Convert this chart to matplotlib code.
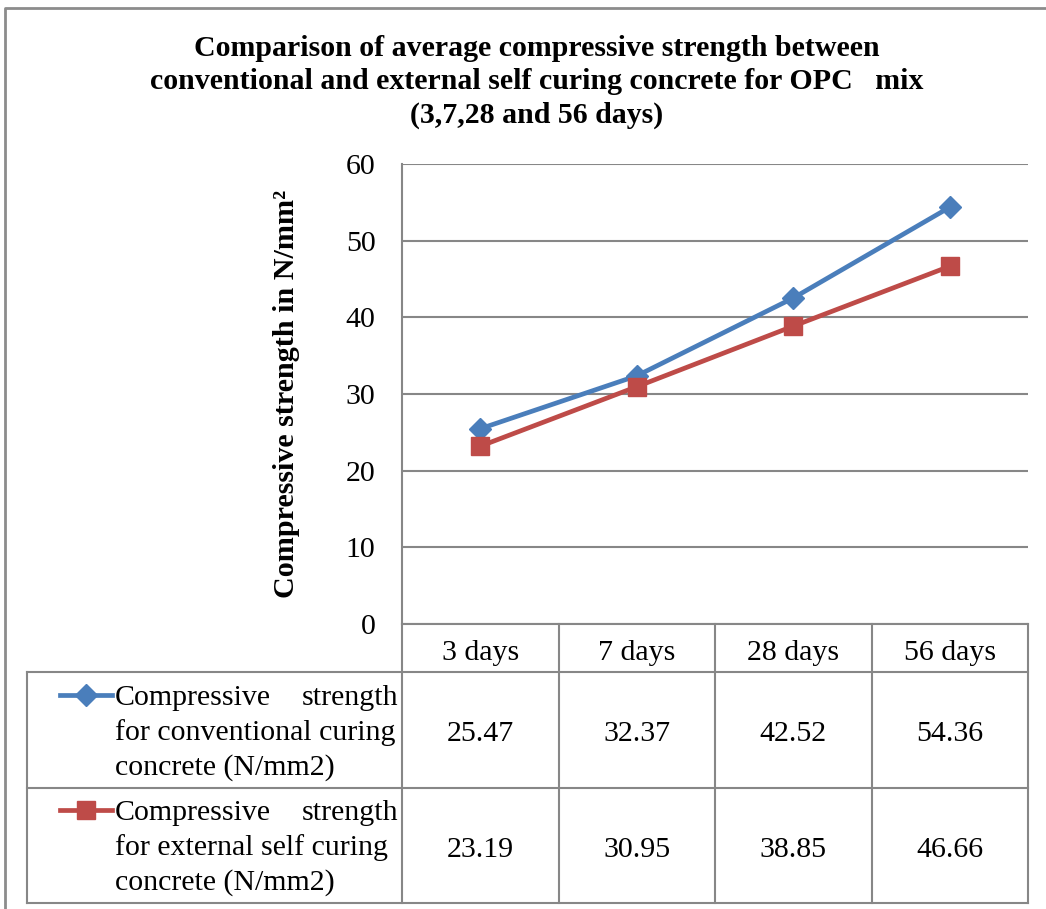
import matplotlib
matplotlib.use("Agg")
import matplotlib.pyplot as plt
from matplotlib.lines import Line2D
from matplotlib.transforms import blended_transform_factory

# data
days = ["3 days", "7 days", "28 days", "56 days"]
conventional = [25.47, 32.37, 42.52, 54.36]
self_curing = [23.19, 30.95, 38.85, 46.66]
yticks = [0, 10, 20, 30, 40, 50, 60]

blue = "#4A7EBB"
red = "#BE4B48"
grid_c = "#878787"
fs = 21.5

plt.rcParams['font.family'] = ['Liberation Serif', 'DejaVu Serif']

W, H = 1046, 909
fig = plt.figure(figsize=(W / 100, H / 100), dpi=100)

def fx(px):
    return px / W

def fy(py):
    return 1 - py / H

# outer chart border
fig.add_artist(Line2D([fx(5), fx(5), fx(W + 5)], [fy(H + 5), fy(8), fy(8)],
                      transform=fig.transFigure, color="#8c8c8c", lw=2))

fig.text(fx(537), fy(82),
         "Comparison of average compressive strength between\n"
         "conventional and external self curing concrete for OPC   mix\n"
         "(3,7,28 and 56 days)",
         ha='center', va='center', fontsize=21.5, fontweight='bold', linespacing=1.3)

ax = fig.add_axes([fx(402), fy(624), fx(1028) - fx(402), fy(164) - fy(624)])
x = list(range(len(days)))
ax.plot(x, conventional, color=blue, lw=3.4, marker='D', ms=11.5, zorder=3)
ax.plot(x, self_curing, color=red, lw=3.4, marker='s', ms=13.5, zorder=3)

ax.set_xlim(-0.5, len(days) - 0.5)
ax.set_ylim(0, 60)
ax.set_yticks(yticks)
ax.set_yticklabels([str(v) for v in yticks], fontsize=fs)
ax.set_xticks([])
ax.tick_params(axis='y', length=0, pad=19)
ax.grid(axis='y', color=grid_c, lw=1.5)
for s in ['top', 'right']:
    ax.spines[s].set_visible(False)
for s in ['left', 'bottom']:
    ax.spines[s].set_color(grid_c)
    ax.spines[s].set_linewidth(1.5)

fig.text(fx(286), fy(394), "Compressive strength in N/mm²", rotation=90,
         ha='center', va='center', fontsize=21.7, fontweight='bold')

# data table below the plot
tr = blended_transform_factory(ax.transData, fig.transFigure)
edges = [i - 0.5 for i in range(len(days) + 1)]
lkw = dict(color=grid_c, lw=1.5, clip_on=False)

for yy in [672, 788, 903]:
    fig.add_artist(Line2D([fx(27), fx(1028)], [fy(yy), fy(yy)],
                          transform=fig.transFigure, color=grid_c, lw=1.5))
fig.add_artist(Line2D([fx(27), fx(27)], [fy(672), fy(903)],
                      transform=fig.transFigure, color=grid_c, lw=1.5))
for e in edges:
    ax.plot([e, e], [fy(624), fy(903)], transform=tr, **lkw)

for i, d in enumerate(days):
    ax.text(i, fy(653), d, transform=tr, ha='center', va='center', fontsize=fs)
    ax.text(i, fy(734), f"{conventional[i]:.2f}", transform=tr,
            ha='center', va='center', fontsize=fs)
    ax.text(i, fy(850), f"{self_curing[i]:.2f}", transform=tr,
            ha='center', va='center', fontsize=fs)

rows = [
    (blue, 'D', 11.5, 695, "for conventional curing"),
    (red, 's', 13.5, 810, "for external self curing"),
]
for col, mk, ms, y0, mid in rows:
    fig.add_artist(Line2D([fx(60), fx(112)], [fy(y0), fy(y0)],
                          transform=fig.transFigure, color=col, lw=3.4))
    fig.add_artist(Line2D([fx(86)], [fy(y0)], transform=fig.transFigure,
                          color=col, marker=mk, ms=ms, lw=0))
    fig.text(fx(115), fy(y0 + 3), "Compressive", ha='left', va='center', fontsize=fs)
    fig.text(fx(398), fy(y0 + 3), "strength", ha='right', va='center', fontsize=fs)
    fig.text(fx(115), fy(y0 + 38), mid, ha='left', va='center', fontsize=fs)
    fig.text(fx(115), fy(y0 + 73), "concrete (N/mm2)", ha='left', va='center', fontsize=fs)

fig.savefig("out.png", dpi=100)
